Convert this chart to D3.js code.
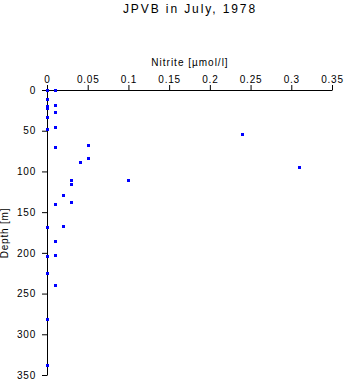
<!DOCTYPE html>
<html>
<head>
<meta charset="utf-8">
<script src="https://cdn.jsdelivr.net/npm/d3@7"></script>
<style>
  html, body { margin: 0; padding: 0; background: #fff; }
  text { font-family: "Liberation Sans", Arial, Helvetica, sans-serif; fill: #000; }
</style>
</head>
<body>
<svg id="chart" width="346" height="384"></svg>
<script>
// ---- data ----
const title = "JPVB in July, 1978";
const xLabel = "Nitrite [\u00b5mol/l]";
const yLabel = "Depth [m]";
const depths  = [0, 0, 11, 18, 20, 22, 27, 33, 45, 48, 54, 68, 70, 84, 88, 94, 110, 111, 115, 129, 138, 140, 167, 168, 186, 203, 204, 225, 240, 281, 338];
const nitrite = [0, 0.01, 0, 0.01, 0, 0, 0.01, 0, 0.01, 0, 0.24, 0.05, 0.01, 0.05, 0.04, 0.31, 0.1, 0.03, 0.03, 0.02, 0.03, 0.01, 0.02, 0, 0.01, 0.01, 0, 0, 0.01, 0, 0];
const xTicks = [0, 0.05, 0.1, 0.15, 0.2, 0.25, 0.3, 0.35];
const xTickLabels = ["0", "0.05", "0.1", "0.15", "0.2", "0.25", "0.3", "0.35"];
const yTicks = [0, 50, 100, 150, 200, 250, 300, 350];
const yTickLabels = ["0", "50", "100", "150", "200", "250", "300", "350"];

// ---- layout ----
const svg = d3.select("#chart");
const x = d3.scaleLinear().domain([0, 0.35]).range([47, 332]);
const y = d3.scaleLinear().domain([0, 350]).range([90, 375]);

svg.append("text")
  .attr("x", 190).attr("y", 13)
  .attr("text-anchor", "middle")
  .style("font-size", "12px")
  .style("letter-spacing", "1.9px")
  .text(title);

const xAxis = d3.axisTop(x)
  .tickValues(xTicks)
  .tickFormat((d, i) => xTickLabels[i])
  .tickSize(5).tickSizeOuter(0).tickPadding(2);
const gx = svg.append("g").attr("transform", "translate(0,90)").call(xAxis);
gx.select(".domain").attr("stroke", "#000");
gx.selectAll(".tick line").attr("stroke", "#000");
gx.selectAll(".tick text").style("font-size", "10px").style("letter-spacing", "0.8px")
  .attr("font-family", null);

const yAxis = d3.axisLeft(y)
  .tickValues(yTicks)
  .tickFormat((d, i) => yTickLabels[i])
  .tickSize(5).tickSizeOuter(0).tickPadding(6);
const gy = svg.append("g").attr("transform", "translate(47,0)").call(yAxis);
gy.select(".domain").attr("stroke", "#000");
gy.selectAll(".tick line").attr("stroke", "#000");
gy.selectAll(".tick text").style("font-size", "10px").style("letter-spacing", "0.8px")
  .attr("font-family", null);

svg.append("text")
  .attr("x", 190).attr("y", 66)
  .attr("text-anchor", "middle")
  .style("font-size", "10px")
  .style("letter-spacing", "1px")
  .text(xLabel);

svg.append("text")
  .attr("transform", "translate(8,233) rotate(-90)")
  .attr("text-anchor", "middle")
  .style("font-size", "10px")
  .style("letter-spacing", "0.8px")
  .text(yLabel);

const pts = depths.map((d, i) => ({ depth: d, val: nitrite[i] }));
svg.append("g").selectAll("rect")
  .data(pts)
  .join("rect")
  .attr("x", d => Math.round(x(d.val)) - 1)
  .attr("y", d => Math.round(y(d.depth)) - 1)
  .attr("width", 3)
  .attr("height", 3)
  .attr("fill", "#0000ff");
</script>
</body>
</html>
